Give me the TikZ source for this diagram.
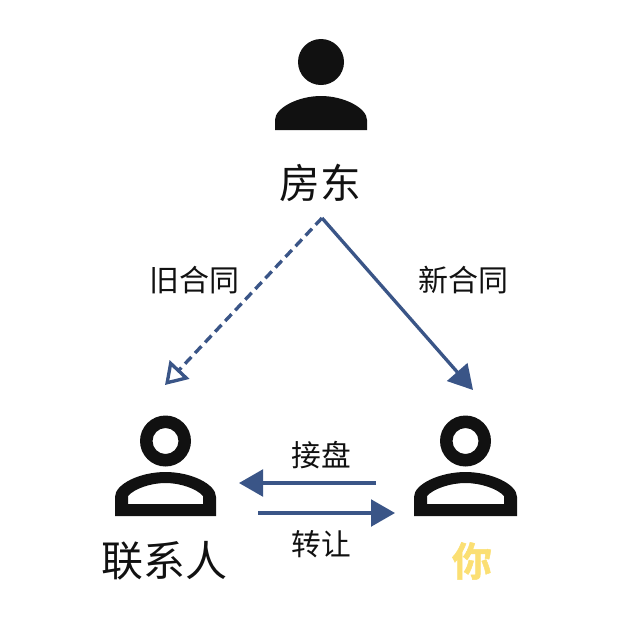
\documentclass[tikz,border=0pt]{standalone}
\usepackage{fontspec}
\usetikzlibrary{arrows.meta}
\newfontfamily\cjk{Noto Sans CJK SC}
\newfontfamily\cjkbold[FakeBold=1.2]{Noto Sans CJK SC Bold}
\definecolor{arrowblue}{HTML}{3A5587}
\definecolor{iconblack}{HTML}{111111}
\definecolor{youyellow}{HTML}{FBDF73}
\tikzset{
  lbl/.style={inner sep=0pt,text=iconblack,font=\cjk},
  link/.style={draw=arrowblue,line width=2.5pt},
  filledhead/.style={-{Triangle[length=18pt,width=20pt,fill=arrowblue]}},
  openhead/.style={-{Triangle[open,length=16pt,width=20pt,line width=2.5pt]}},
  icon/.style={fill=iconblack,draw=none}
}
\begin{document}
\begin{tikzpicture}[x=0.75pt,y=-0.75pt]
\useasboundingbox (0,0) rectangle (628,619);
% landlord icon
\fill[icon] (321,62) circle (23);
\fill[icon] (275,130) -- (275,120) .. controls (275,108) and (298,96) .. (321,96)
  .. controls (344,96) and (367,108) .. (367,120) -- (367,130) -- cycle;
% contact icon
\fill[icon,even odd rule] (165.5,441) circle (25.5) (165.5,441) circle (13);
\fill[icon,even odd rule] (115,516) -- (115,497) .. controls (115,484) and (140,472) .. (165.5,472)
  .. controls (191,472) and (216,484) .. (216,497) -- (216,516) -- cycle
  (128,504) -- (128,496) .. controls (134,489) and (150,483) .. (165.5,483)
  .. controls (181,483) and (197,489) .. (203,496) -- (203,504) -- cycle;
% you icon
\fill[icon,even odd rule] (465.5,441) circle (25.5) (465.5,441) circle (13);
\fill[icon,even odd rule] (414,516) -- (414,497) .. controls (414,484) and (440,472) .. (465.5,472)
  .. controls (491,472) and (517,484) .. (517,497) -- (517,516) -- cycle
  (427,504) -- (427,496) .. controls (433,489) and (450,483) .. (465.5,483)
  .. controls (481,483) and (498,489) .. (504,496) -- (504,504) -- cycle;
% labels
\node[lbl] (landlord) at (320.5,183) {\fontsize{30.5pt}{30.5pt}\selectfont 房东};
\node[lbl] (contact) at (164,561) {\fontsize{31.5pt}{31.5pt}\selectfont 联系人};
\node[inner sep=0pt,text=youyellow] (you) at (472,561) {\cjkbold\fontsize{30pt}{30pt}\selectfont 你};
\node[lbl] (oldc) at (194,280) {\fontsize{22.5pt}{22.5pt}\selectfont 旧合同};
\node[lbl] (newc) at (463.5,280) {\fontsize{22.5pt}{22.5pt}\selectfont 新合同};
\node[lbl] (takeover) at (321.5,455) {\fontsize{22.3pt}{22.3pt}\selectfont 接盘};
\node[lbl] (transfer) at (321.5,544) {\fontsize{22.3pt}{22.3pt}\selectfont 转让};
% connector ends
\coordinate (src) at (322,218);
\coordinate (oldtip) at (165,385);
\coordinate (newtip) at (473,390);
\coordinate (a1) at (376,483);
\coordinate (a2) at (239,483);
\coordinate (b1) at (258,513);
\coordinate (b2) at (395,513);
% connectors
\draw[link,dash pattern=on 7pt off 4pt,openhead] (src) -- (oldtip);
\draw[link,filledhead] (src) -- (newtip);
\draw[link,filledhead] (a1) -- (a2);
\draw[link,filledhead] (b1) -- (b2);
\end{tikzpicture}
\end{document}
